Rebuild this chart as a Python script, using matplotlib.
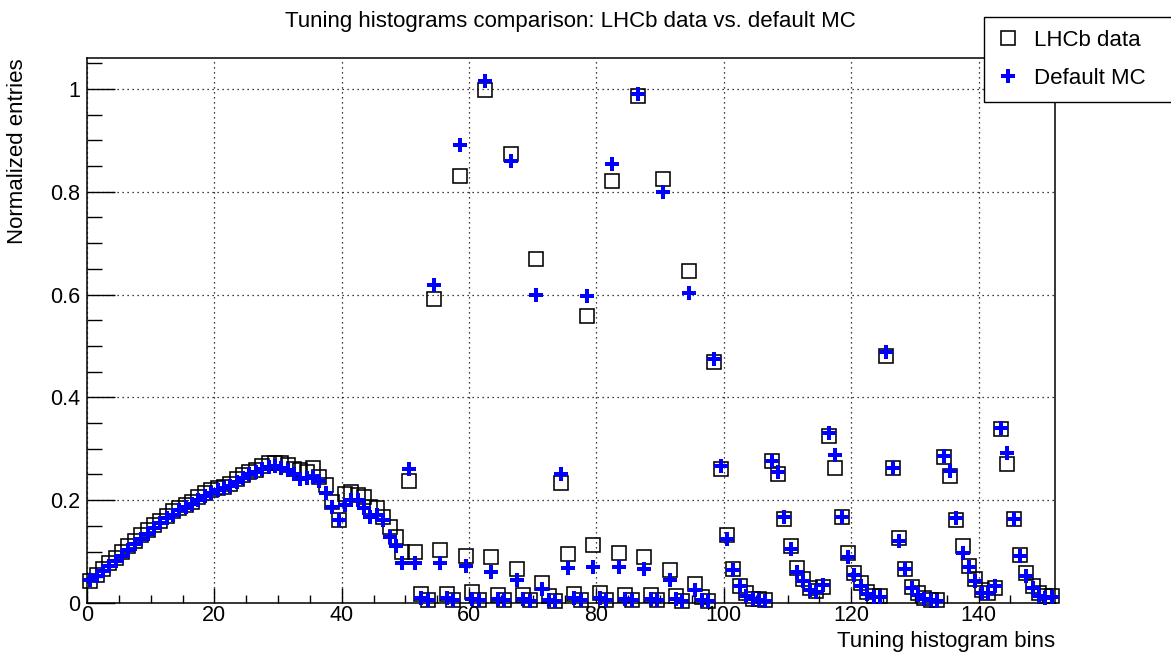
import numpy as np
import matplotlib.pyplot as plt

plt.rcParams['font.family'] = ['Liberation Sans', 'DejaVu Sans']

# normalized entries per tuning-histogram bin
lhcb_data = [
    0.043, 0.055, 0.066, 0.078, 0.088, 0.099, 0.110, 0.121, 0.132, 0.142,
    0.152, 0.160, 0.170, 0.178, 0.185, 0.190, 0.197, 0.206, 0.213, 0.219,
    0.224, 0.226, 0.232, 0.242, 0.249, 0.254, 0.258, 0.266, 0.272, 0.273,
    0.272, 0.268, 0.260, 0.258, 0.255, 0.262, 0.246, 0.230, 0.197, 0.161,
    0.212, 0.215, 0.210, 0.207, 0.187, 0.184, 0.168, 0.148, 0.128,
    0.100, 0.237, 0.100, 0.017, 0.005,
    0.591, 0.104, 0.018, 0.005,
    0.830, 0.091, 0.021, 0.005,
    0.997, 0.090, 0.016, 0.005,
    0.874, 0.067, 0.015, 0.005,
    0.669, 0.038, 0.013, 0.004,
    0.234, 0.095, 0.017, 0.005,
    0.558, 0.113, 0.020, 0.005,
    0.820, 0.097, 0.016, 0.005,
    0.986, 0.090, 0.016, 0.005,
    0.824, 0.064, 0.013, 0.004,
    0.645, 0.036, 0.012, 0.004,
    0.468,
    0.260, 0.132, 0.067, 0.034, 0.019, 0.008, 0.007, 0.005,
    0.277, 0.250, 0.163, 0.110, 0.069, 0.046, 0.029, 0.023, 0.032,
    0.325, 0.263, 0.168, 0.098, 0.059, 0.038, 0.022, 0.014, 0.014,
    0.480, 0.263, 0.126, 0.067, 0.032, 0.019, 0.009, 0.006, 0.005,
    0.283, 0.247, 0.161, 0.110, 0.071, 0.046, 0.025, 0.020, 0.030,
    0.338, 0.270, 0.163, 0.093, 0.059, 0.034, 0.020, 0.014, 0.014,
]

default_mc = [
    0.045, 0.052, 0.062, 0.072, 0.082, 0.092, 0.104, 0.114, 0.125, 0.135,
    0.145, 0.155, 0.165, 0.172, 0.180, 0.186, 0.193, 0.200, 0.208, 0.214,
    0.220, 0.223, 0.228, 0.236, 0.243, 0.250, 0.255, 0.260, 0.265, 0.266,
    0.262, 0.259, 0.250, 0.242, 0.243, 0.246, 0.238, 0.213, 0.187, 0.161,
    0.190, 0.200, 0.200, 0.184, 0.168, 0.171, 0.161, 0.129, 0.110,
    0.077, 0.260, 0.077, 0.009, 0.005,
    0.619, 0.077, 0.009, 0.005,
    0.891, 0.071, 0.008, 0.005,
    1.016, 0.061, 0.008, 0.005,
    0.859, 0.045, 0.007, 0.004,
    0.599, 0.027, 0.006, 0.004,
    0.250, 0.069, 0.009, 0.005,
    0.597, 0.070, 0.009, 0.005,
    0.853, 0.070, 0.008, 0.005,
    0.990, 0.067, 0.008, 0.005,
    0.800, 0.045, 0.007, 0.004,
    0.602, 0.025, 0.006, 0.004,
    0.475,
    0.266, 0.124, 0.065, 0.033, 0.014, 0.007, 0.005, 0.004,
    0.277, 0.254, 0.167, 0.106, 0.061, 0.043, 0.026, 0.021, 0.035,
    0.330, 0.288, 0.167, 0.090, 0.055, 0.034, 0.018, 0.012, 0.012,
    0.488, 0.263, 0.120, 0.067, 0.030, 0.015, 0.008, 0.005, 0.004,
    0.285, 0.256, 0.165, 0.098, 0.070, 0.042, 0.019, 0.020, 0.033,
    0.340, 0.291, 0.163, 0.091, 0.052, 0.030, 0.014, 0.010, 0.012,
]

n_bins = len(lhcb_data)
bin_centers = np.arange(n_bins) + 0.5
fs = 16

W, H = 1171, 652
fig = plt.figure(figsize=(W / 100, H / 100), dpi=100)
ax = fig.add_axes([87 / W, 1 - 603 / H, (1055 - 87) / W, (603 - 58) / H])

ax.plot(bin_centers, lhcb_data, 's', mfc='none', mec='black', mew=1.15,
        ms=9.5, label='LHCb data', clip_on=False, zorder=3)
ax.plot(bin_centers, default_mc, 'P', color='#0000ff', mew=0, ms=10.5,
        label='Default MC', clip_on=False, zorder=4)

ax.set_xlim(0, n_bins)
ax.set_ylim(0, 1.06)
ax.set_xticks(np.arange(0, 141, 20))
ax.set_xticks(np.arange(0, 151, 5), minor=True)
ax.set_yticks([0, 0.2, 0.4, 0.6, 0.8, 1.0])
ax.set_yticklabels(['0', '0.2', '0.4', '0.6', '0.8', '1'])
ax.set_yticks(np.arange(0, 1.051, 0.05), minor=True)

ax.tick_params(which='both', direction='in', top=False, right=False,
               labelsize=fs - 0.5, width=1.0, color='black')
ax.tick_params(axis='y', which='major', length=20, pad=5)
ax.tick_params(axis='y', which='minor', length=10.5)
ax.tick_params(axis='x', which='major', length=10.5, pad=1.5)
ax.tick_params(axis='x', which='minor', length=5.5)

ax.grid(True, which='major', color='black', linestyle=(0, (1, 3)), linewidth=0.9)
for s in ax.spines.values():
    s.set_linewidth(1.1)

fig.text(570 / W, 1 - 22 / H,
         'Tuning histograms comparison: LHCb data vs. default MC',
         ha='center', va='center', fontsize=fs)
fig.text(18 / W, 1 - 58 / H, 'Normalized entries', rotation=90,
         ha='center', va='top', fontsize=fs)
fig.text(1055 / W, 1 - 642 / H, 'Tuning histogram bins',
         ha='right', va='center', fontsize=fs)

leg = fig.legend(loc='upper left', bbox_to_anchor=(984 / W, 1 - 101 / H, 200 / W, 84 / H),
                 mode='expand', fontsize=fs, frameon=True, fancybox=False,
                 edgecolor='black', framealpha=1, numpoints=1,
                 handlelength=1.0, handletextpad=0.68, borderpad=0.58,
                 labelspacing=0.78, borderaxespad=0)
leg.get_frame().set_linewidth(1.0)

fig.savefig('out.png', dpi=100)
